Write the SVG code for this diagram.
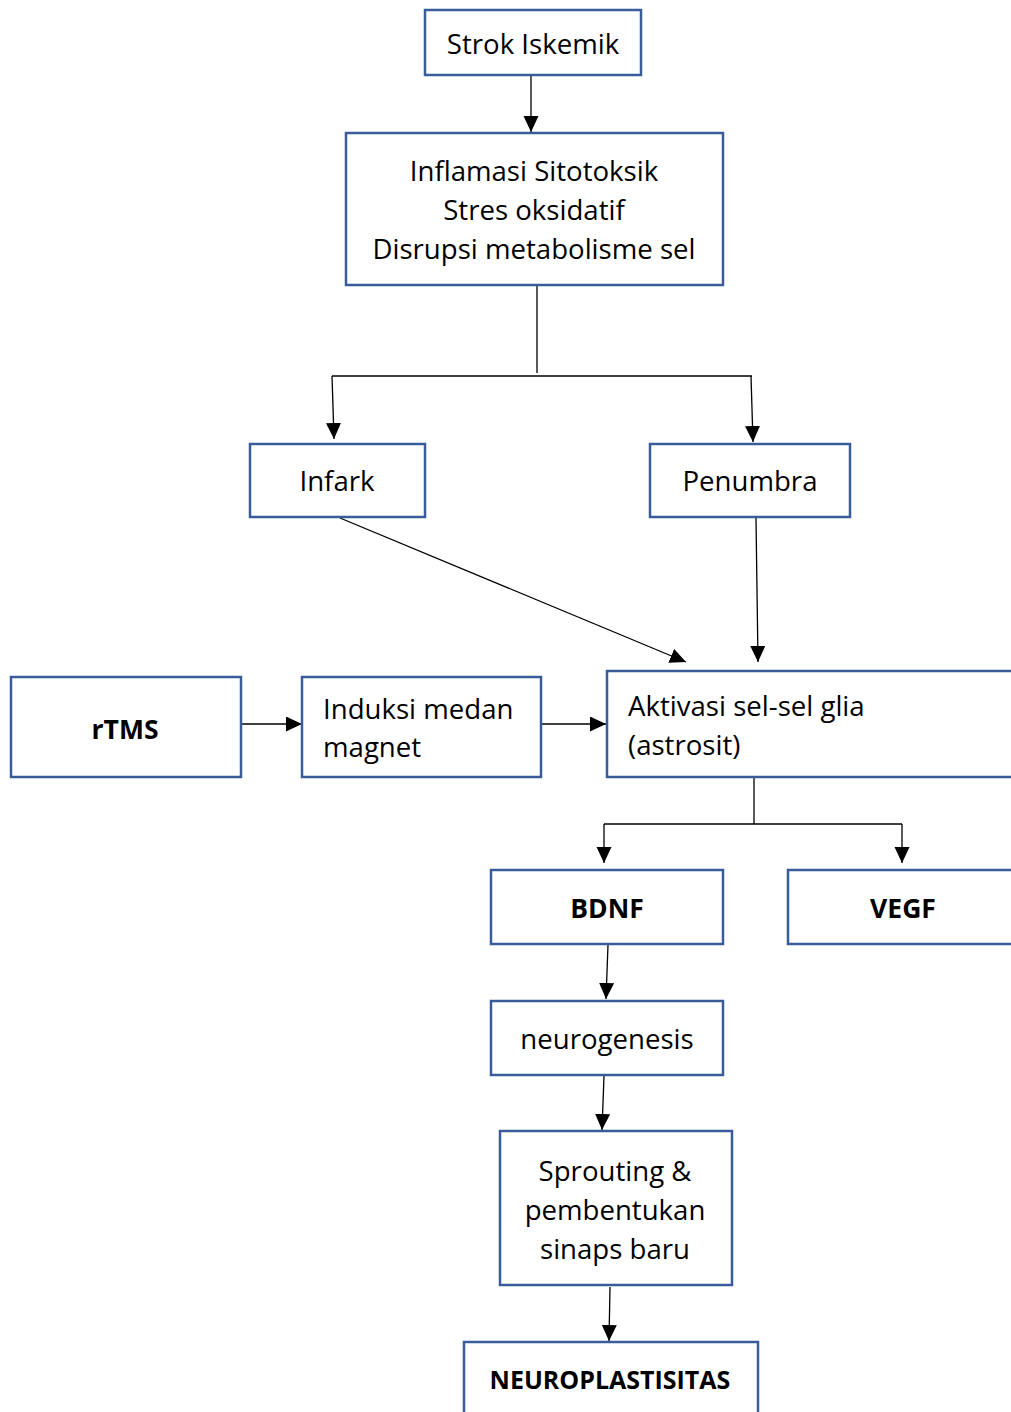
<svg xmlns="http://www.w3.org/2000/svg" width="1011" height="1412" viewBox="0 0 1011 1412">
<style>
.box{fill:#fff;stroke:#3B5C9B;stroke-width:2.5}
.t{font-family:"Open Sans","Noto Sans",sans-serif;font-size:27.6px;fill:#000}
.b{font-family:"Open Sans","Noto Sans",sans-serif;font-size:26.5px;font-weight:bold;fill:#000}
.c{text-anchor:middle}
.ln{fill:none;stroke:#000;stroke-width:1.3}
</style>
<defs>
<marker id="ah" markerUnits="userSpaceOnUse" markerWidth="17" markerHeight="17" viewBox="0 0 17 17" refX="16" refY="7.5" orient="auto">
<path d="M0,0 L16,7.5 L0,15 Z" fill="#000"/>
</marker>
</defs>
<rect width="1011" height="1412" fill="#fff"/>
<g id="connectors">
<line class="ln" x1="531" y1="76" x2="531" y2="132" marker-end="url(#ah)"/>
<polyline class="ln" points="537,286 537,373"/>
<line class="ln" x1="332" y1="376" x2="752" y2="376"/>
<line class="ln" x1="332" y1="376" x2="334" y2="439" marker-end="url(#ah)"/>
<line class="ln" x1="751" y1="376" x2="753" y2="442" marker-end="url(#ah)"/>
<line class="ln" x1="340" y1="518" x2="686" y2="662" marker-end="url(#ah)"/>
<line class="ln" x1="756" y1="518" x2="758" y2="662" marker-end="url(#ah)"/>
<line class="ln" x1="242" y1="724" x2="302" y2="724" marker-end="url(#ah)"/>
<line class="ln" x1="541" y1="724" x2="606" y2="724" marker-end="url(#ah)"/>
<line class="ln" x1="754" y1="778" x2="754" y2="824"/>
<line class="ln" x1="604" y1="824" x2="902" y2="824"/>
<line class="ln" x1="604" y1="824" x2="604" y2="863" marker-end="url(#ah)"/>
<line class="ln" x1="902" y1="824" x2="902" y2="863" marker-end="url(#ah)"/>
<line class="ln" x1="608" y1="945" x2="606" y2="999" marker-end="url(#ah)"/>
<line class="ln" x1="604" y1="1076" x2="602" y2="1130" marker-end="url(#ah)"/>
<line class="ln" x1="610" y1="1287" x2="609" y2="1341" marker-end="url(#ah)"/>
</g>
<g id="strok">
<rect class="box" x="425" y="10" width="216" height="65"/>
<text class="t c" x="533" y="54">Strok Iskemik</text>
</g>
<g id="inflamasi">
<rect class="box" x="346" y="133" width="377" height="152"/>
<text class="t c" x="534" y="181">Inflamasi Sitotoksik</text>
<text class="t c" x="534" y="220">Stres oksidatif</text>
<text class="t c" x="534" y="259">Disrupsi metabolisme sel</text>
</g>
<g id="infark">
<rect class="box" x="250" y="444" width="175" height="73"/>
<text class="t c" x="337" y="491">Infark</text>
</g>
<g id="penumbra">
<rect class="box" x="650" y="444" width="200" height="73"/>
<text class="t c" x="750" y="491">Penumbra</text>
</g>
<g id="rtms">
<rect class="box" x="11" y="677" width="230" height="100"/>
<text class="b c" x="125" y="739">rTMS</text>
</g>
<g id="induksi">
<rect class="box" x="302" y="677" width="239" height="100"/>
<text class="t" x="323" y="719">Induksi medan</text>
<text class="t" x="323" y="757">magnet</text>
</g>
<g id="aktivasi">
<rect class="box" x="607" y="671" width="420" height="106"/>
<text class="t" x="628" y="716">Aktivasi sel-sel glia</text>
<text class="t" x="628" y="755">(astrosit)</text>
</g>
<g id="bdnf">
<rect class="box" x="491" y="870" width="232" height="74"/>
<text class="b c" x="607" y="918">BDNF</text>
</g>
<g id="vegf">
<rect class="box" x="788" y="870" width="240" height="74"/>
<text class="b c" x="903" y="918">VEGF</text>
</g>
<g id="neurogenesis">
<rect class="box" x="491" y="1001" width="232" height="74"/>
<text class="t c" x="607" y="1049">neurogenesis</text>
</g>
<g id="sprouting">
<rect class="box" x="500" y="1131" width="232" height="154"/>
<text class="t c" x="615" y="1181">Sprouting &amp;</text>
<text class="t c" x="615" y="1220">pembentukan</text>
<text class="t c" x="615" y="1259">sinaps baru</text>
</g>
<g id="neuroplastisitas">
<rect class="box" x="464" y="1342" width="294" height="90"/>
<text class="b c" x="610" y="1389" style="font-size:25px">NEUROPLASTISITAS</text>
</g>
</svg>
